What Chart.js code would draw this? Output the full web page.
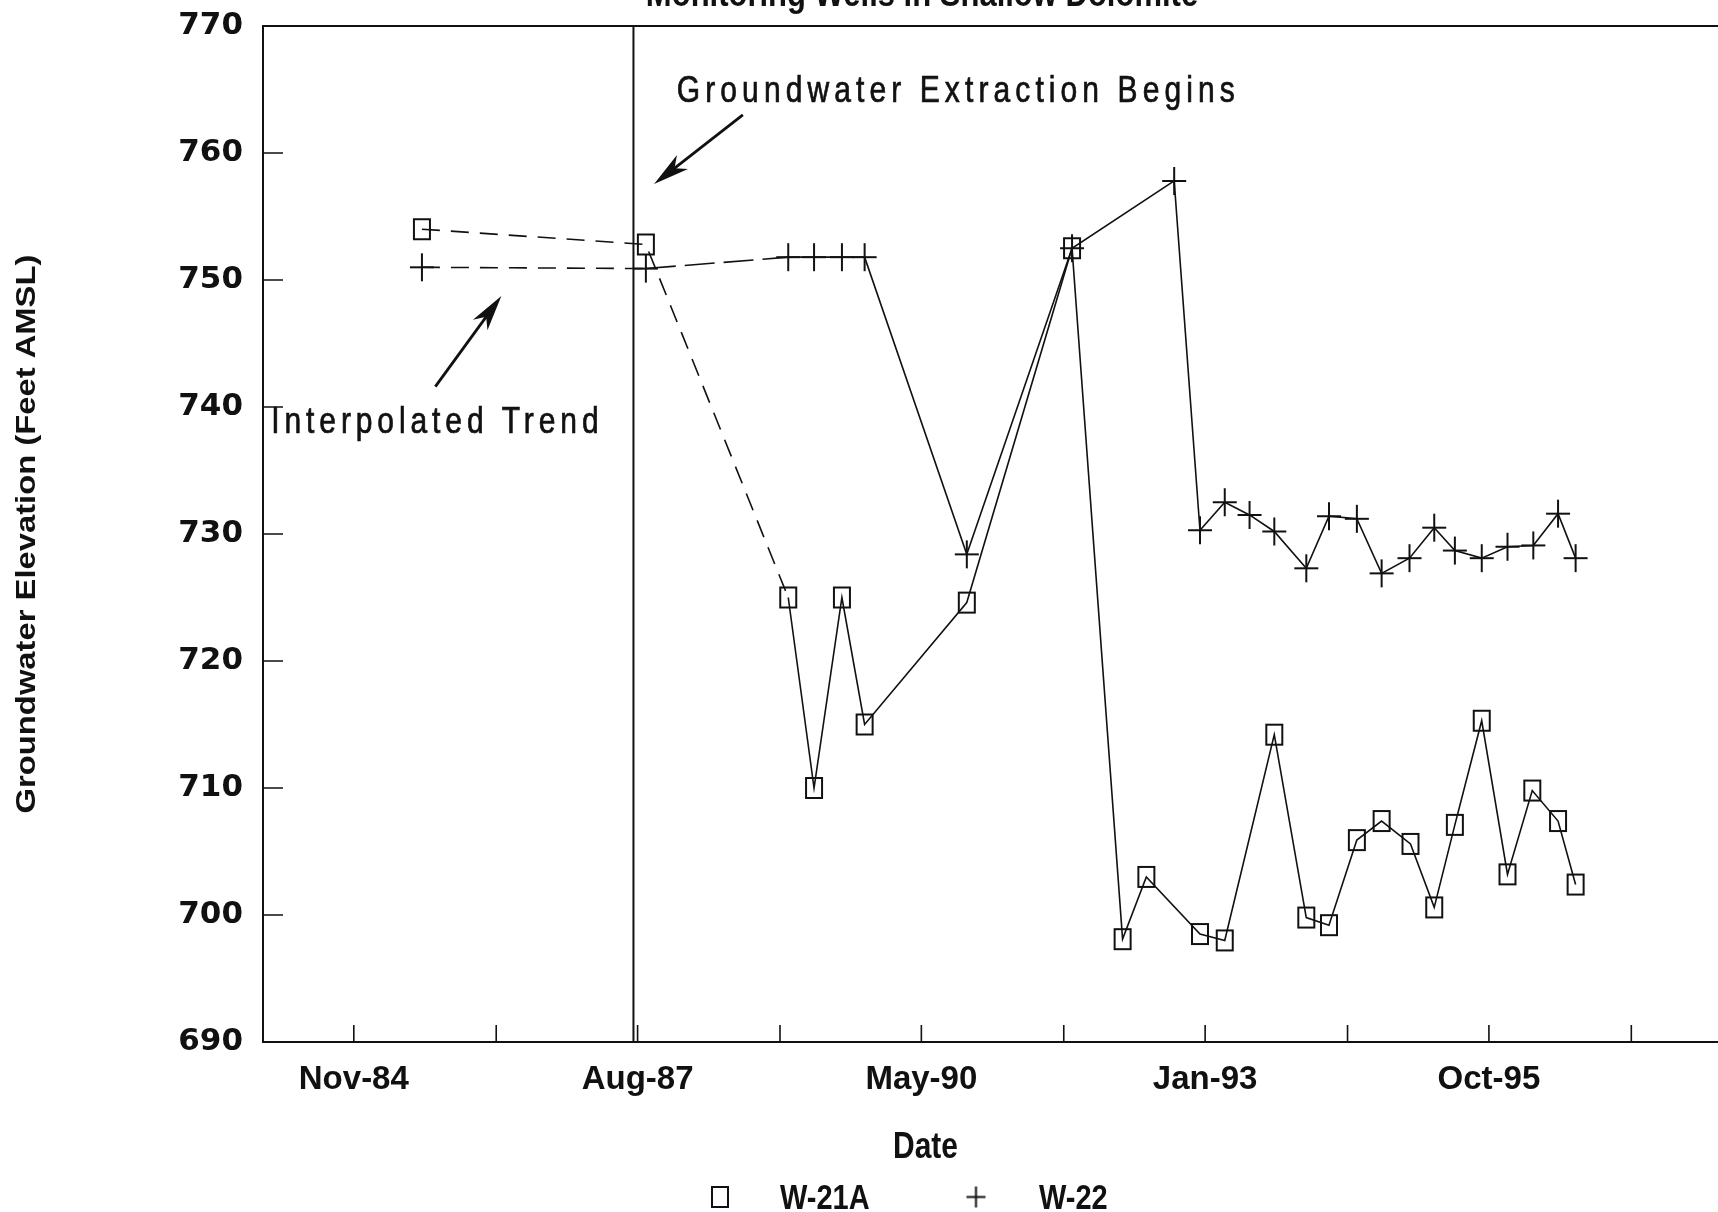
<!DOCTYPE html>
<html>
<head>
<meta charset="utf-8">
<title>Groundwater Elevation - Shallow Dolomite Wells</title>
<script src="https://cdn.jsdelivr.net/npm/chart.js@4.4.1/dist/chart.umd.min.js"></script>
<style>
  html, body { margin: 0; padding: 0; background: #fff; }
  canvas { display: block; }
</style>
</head>
<body>
<canvas id="wellChart" width="1718" height="1212"></canvas>
<script>
// sampling dates as decimal years, levels in feet AMSL
const w21aDates  = [1985.49, 1987.66, 1989.04, 1989.29, 1989.56, 1989.78, 1990.77, 1991.79, 1992.28, 1992.51,
                    1993.03, 1993.27, 1993.75, 1994.06, 1994.28, 1994.55, 1994.79, 1995.07, 1995.30, 1995.50,
                    1995.76, 1996.01, 1996.25, 1996.50, 1996.67];
const w21aLevels = [754.0, 752.8, 725.0, 710.0, 725.0, 715.0, 724.6, 752.5, 698.1, 703.0,
                    698.5, 698.0, 714.2, 699.8, 699.2, 705.9, 707.4, 705.6, 700.6, 707.1,
                    715.3, 703.2, 709.8, 707.4, 702.4];

const w22Dates  = [1985.49, 1987.66, 1989.04, 1989.29, 1989.56, 1989.78, 1990.77, 1991.79, 1992.78, 1993.03,
                   1993.27, 1993.51, 1993.75, 1994.06, 1994.28, 1994.55, 1994.79, 1995.06, 1995.30, 1995.50,
                   1995.76, 1996.01, 1996.26, 1996.50, 1996.67];
const w22Levels = [751.0, 750.9, 751.8, 751.8, 751.8, 751.8, 728.4, 752.5, 757.8, 730.3,
                   732.5, 731.5, 730.2, 727.3, 731.4, 731.2, 726.9, 728.1, 730.5, 728.7,
                   728.1, 729.0, 729.1, 731.6, 728.1];

const xTickValues = [1984.83, 1986.21, 1987.58, 1988.96, 1990.33, 1991.71, 1993.08, 1994.46, 1995.83, 1997.21];
const xTickLabels = ['Nov-84', '', 'Aug-87', '', 'May-90', '', 'Jan-93', '', 'Oct-95', ''];
const yTickValues = [690, 700, 710, 720, 730, 740, 750, 760, 770];

const extractionStart = 1987.54;

// the scanned lettering is a bit taller than it is wide
const TEXT_STRETCH = 1.2;

function toPoints(xs, ys) {
    return xs.map((x, i) => ({ x: x, y: ys[i] }));
}

// hollow square and plus markers, slightly taller than wide
function squareMarker() {
    const c = document.createElement('canvas');
    c.width = 20; c.height = 24;
    const g = c.getContext('2d');
    g.strokeStyle = '#111';
    g.lineWidth = 2;
    g.strokeRect(2, 2, 16, 20);
    return c;
}

function plusMarker(w, h) {
    const c = document.createElement('canvas');
    c.width = w + 4; c.height = h + 4;
    const g = c.getContext('2d');
    g.strokeStyle = '#111';
    g.lineWidth = 2;
    g.beginPath();
    g.moveTo(2, c.height / 2); g.lineTo(w + 2, c.height / 2);
    g.moveTo(c.width / 2, 2); g.lineTo(c.width / 2, h + 2);
    g.stroke();
    return c;
}

const squareImg = squareMarker();
const plusImg = plusMarker(24, 28);
const keyPlusImg = plusMarker(19, 21);

function drawText(ctx, text, x, y, font, opts) {
    opts = opts || {};
    ctx.save();
    ctx.font = font;
    ctx.fillStyle = '#111';
    ctx.strokeStyle = '#111';
    ctx.textAlign = opts.align || 'left';
    ctx.textBaseline = opts.baseline || 'alphabetic';
    ctx.letterSpacing = (opts.spacing || 0) + 'px';
    ctx.translate(x, y);
    if (opts.rotate) ctx.rotate(opts.rotate);
    ctx.scale(opts.sx || 1, opts.sy || TEXT_STRETCH);
    ctx.fillText(text, 0, 0);
    if (opts.stroke) {
        ctx.lineWidth = opts.stroke;
        ctx.strokeText(text, 0, 0);
    }
    ctx.restore();
}

function drawArrow(ctx, x0, y0, x1, y1) {
    const a = Math.atan2(y1 - y0, x1 - x0);
    const cos = Math.cos(a), sin = Math.sin(a);
    const len = 36, half = 9;
    ctx.save();
    ctx.strokeStyle = '#111';
    ctx.fillStyle = '#111';
    ctx.lineWidth = 2.8;
    ctx.beginPath();
    ctx.moveTo(x0, y0);
    ctx.lineTo(x1 - cos * len * 0.6, y1 - sin * len * 0.6);
    ctx.stroke();
    ctx.beginPath();
    ctx.moveTo(x1, y1);
    ctx.lineTo(x1 - len * cos + half * sin, y1 - len * sin - half * cos);
    ctx.lineTo(x1 - len * 0.72 * cos, y1 - len * 0.72 * sin);
    ctx.lineTo(x1 - len * cos - half * sin, y1 - len * sin + half * cos);
    ctx.closePath();
    ctx.fill();
    ctx.restore();
}

// frame, extraction marker, inward ticks, notes, titles and key
const decorations = {
    id: 'decorations',
    beforeDatasetsDraw(chart) {
        const { ctx, chartArea, scales } = chart;
        ctx.save();
        ctx.strokeStyle = '#111';
        ctx.lineWidth = 2;

        // top edge of the frame
        ctx.beginPath();
        ctx.moveTo(chartArea.left, chartArea.top);
        ctx.lineTo(chartArea.right, chartArea.top);
        ctx.stroke();

        // start of groundwater extraction
        const ex = scales.x.getPixelForValue(extractionStart);
        ctx.beginPath();
        ctx.moveTo(ex, chartArea.top);
        ctx.lineTo(ex, chartArea.bottom);
        ctx.stroke();

        // tick marks pointing into the plot
        ctx.lineWidth = 1.6;
        ctx.beginPath();
        yTickValues.slice(1, -1).forEach(v => {
            const py = scales.y.getPixelForValue(v);
            ctx.moveTo(chartArea.left, py);
            ctx.lineTo(chartArea.left + 20, py);
        });
        xTickValues.forEach(v => {
            const px = scales.x.getPixelForValue(v);
            ctx.moveTo(px, chartArea.bottom);
            ctx.lineTo(px, chartArea.bottom - 17);
        });
        ctx.stroke();
        ctx.restore();
    },
    afterDraw(chart) {
        const { ctx, scales } = chart;
        const X = v => scales.x.getPixelForValue(v);
        const Y = v => scales.y.getPixelForValue(v);
        const noteFont = '30px "Liberation Sans", Arial, sans-serif';
        const boldFont = size => 'bold ' + size + 'px "Liberation Sans", Arial, sans-serif';

        // notes and arrows
        drawText(ctx, 'Groundwater Extraction Begins', X(1987.96), Y(764.0), noteFont, { spacing: 5.1, stroke: 0.6 });
        drawArrow(ctx, X(1988.60), Y(763.0), X(1987.74), Y(757.55));
        drawText(ctx, 'Interpolated Trend', X(1984.03), Y(737.95), noteFont, { spacing: 4.9, stroke: 0.6 });
        drawArrow(ctx, X(1985.62), Y(741.6), X(1986.26), Y(748.75));

        // chart title, partly off the top of the sheet
        drawText(ctx, 'Monitoring Wells in Shallow Dolomite', 922, 6, boldFont(31), { align: 'center' });

        // axis titles
        drawText(ctx, 'Date', X(1990.37), 1158, boldFont(30), { align: 'center' });
        drawText(ctx, 'Groundwater Elevation (Feet AMSL)', 27, Y(730), boldFont(28), {
            align: 'center', baseline: 'middle', rotate: -Math.PI / 2, sx: 1.17, sy: 1
        });

        // key
        const ky = 1197;
        ctx.drawImage(squareImg, 720 - squareImg.width / 2, ky - squareImg.height / 2);
        drawText(ctx, 'W-21A', 780, ky + 12, boldFont(29));
        ctx.drawImage(keyPlusImg, 976 - keyPlusImg.width / 2, ky - keyPlusImg.height / 2);
        drawText(ctx, 'W-22', 1039, ky + 12, boldFont(29));
    }
};

// early readings are joined by an interpolated (dashed) trend
const w21aDash = seg => seg.p0DataIndex < 2 ? [18, 11] : undefined;
const w22Dash = seg => seg.p0DataIndex === 0 ? [18, 11] : seg.p0DataIndex === 1 ? [30, 9] : undefined;

new Chart(document.getElementById('wellChart'), {
    type: 'line',
    data: {
        datasets: [
            {
                label: 'W-21A',
                data: toPoints(w21aDates, w21aLevels),
                borderColor: '#111',
                borderWidth: 1.6,
                pointStyle: squareImg,
                pointRadius: 10,
                segment: { borderDash: w21aDash }
            },
            {
                label: 'W-22',
                data: toPoints(w22Dates, w22Levels),
                borderColor: '#111',
                borderWidth: 1.6,
                pointStyle: plusImg,
                pointRadius: 12,
                segment: { borderDash: w22Dash }
            }
        ]
    },
    options: {
        responsive: false,
        animation: false,
        devicePixelRatio: 1,
        layout: { autoPadding: false, padding: { top: 26, left: 0, right: 0, bottom: 0 } },
        elements: { line: { tension: 0, fill: false } },
        plugins: {
            legend: { display: false },
            tooltip: { enabled: false }
        },
        scales: {
            x: {
                type: 'linear',
                min: 1983.95,
                max: 1998.05,
                offset: false,
                afterBuildTicks: scale => { scale.ticks = xTickValues.map(v => ({ value: v })); },
                afterFit: scale => {
                    scale.height = 170;
                    scale.paddingLeft = 0;
                    scale.paddingRight = 0;
                },
                grid: { drawOnChartArea: false, drawTicks: false },
                border: { display: true, color: '#111', width: 2 },
                ticks: {
                    autoSkip: false,
                    maxRotation: 0,
                    padding: 18,
                    color: '#111',
                    font: { family: "'Liberation Sans', Arial, sans-serif", size: 33, weight: 'bold' },
                    callback: (value, i) => xTickLabels[i]
                }
            },
            y: {
                min: 690,
                max: 770,
                afterBuildTicks: scale => { scale.ticks = yTickValues.map(v => ({ value: v })); },
                afterFit: scale => {
                    scale.width = 263;
                    scale.paddingTop = 0;
                    scale.paddingBottom = 0;
                },
                grid: { drawOnChartArea: false, drawTicks: false },
                border: { display: true, color: '#111', width: 2 },
                ticks: {
                    padding: 20,
                    color: '#111',
                    font: { family: "'DejaVu Sans', sans-serif", size: 31, weight: 'bold' }
                }
            }
        }
    },
    plugins: [decorations]
});
</script>
</body>
</html>
